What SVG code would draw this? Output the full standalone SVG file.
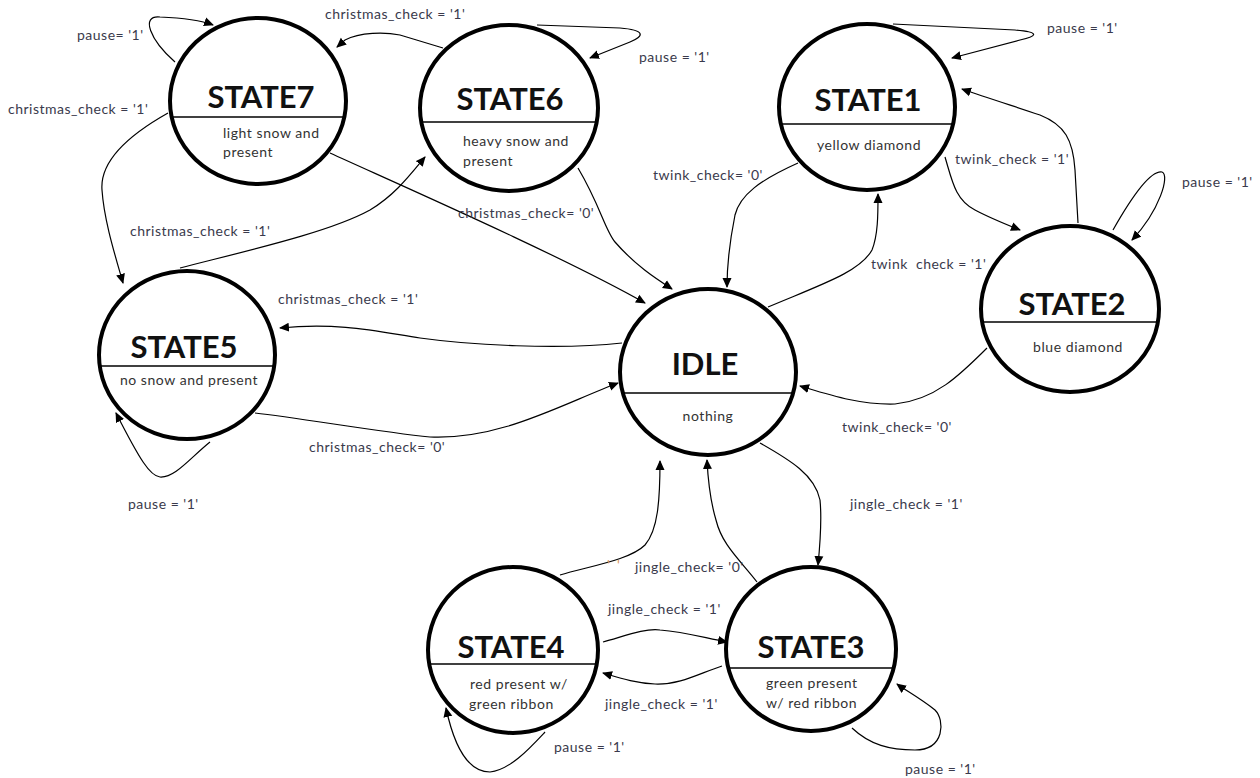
<svg xmlns="http://www.w3.org/2000/svg" width="1260" height="778" viewBox="0 0 1260 778">
<style>
.st{fill:#fff;stroke:#000;stroke-width:4}
.dv{stroke:#000;stroke-width:1.5}
.tt{font-family:Lato,"Liberation Sans",sans-serif;font-weight:bold;font-size:31px;fill:#111;text-anchor:middle}
.sb{font-family:Lato,"Liberation Sans",sans-serif;font-size:14px;fill:#333;letter-spacing:0.55px}
.c{fill:none;stroke:#000;stroke-width:1.2;marker-end:url(#a)}
.lb{font-family:Lato,"Liberation Sans",sans-serif;font-size:14px;fill:#3a3a4c;letter-spacing:0.5px;white-space:pre}
.ms{font-family:Lato,"Liberation Sans",sans-serif;font-size:14px;fill:#d9955a;white-space:pre}
</style>
<defs>
<marker id="a" viewBox="0 0 10 10" refX="9" refY="5" markerWidth="10" markerHeight="10" markerUnits="userSpaceOnUse" orient="auto">
<path d="M0,0.5 L10,5 L0,9.5 z" fill="#000"/>
</marker>
</defs>
<rect width="1260" height="778" fill="#fff"/>

<g id="connectors">
<path class="c" d="M175,62 C150,40 140,15 160,17 C185,18 200,20 213,25"/>
<path class="c" d="M443,48 L400,35 C385,32 360,32 345,40 L337,47"/>
<path class="c" d="M537,25 L620,28 C645,30 645,36 630,42 L590,58"/>
<path class="c" d="M168,113 C120,140 100,165 102,190 C104,220 115,255 123,283"/>
<path class="c" d="M180,268 C250,250 330,232 370,210 C395,195 410,175 425,157"/>
<path class="c" d="M330,153 C400,185 560,255 645,303"/>
<path class="c" d="M578,168 C600,205 605,230 615,242 C635,265 655,278 672,289"/>
<path class="c" d="M798,163 C760,180 740,195 735,215 C730,240 727,265 727,287"/>
<path class="c" d="M768,307 C820,285 860,272 872,250 C878,235 878,215 878,194"/>
<path class="c" d="M945,157 C952,180 955,200 975,210 C990,218 1005,224 1020,230"/>
<path class="c" d="M1078,223 L1075,170 C1073,140 1065,125 1040,115 C1010,105 985,97 962,89"/>
<path class="c" d="M893,24 L1015,30 C1040,32 1038,36 1020,40 L952,58"/>
<path class="c" d="M1113,230 C1130,200 1150,170 1162,172 C1170,175 1160,210 1132,240"/>
<path class="c" d="M987,348 C960,375 935,400 895,404 C860,405 830,395 800,386"/>
<path class="c" d="M622,343 C560,350 470,345 420,338 C380,332 340,322 280,328"/>
<path class="c" d="M255,413 C300,418 380,432 430,437 C500,440 560,405 618,383"/>
<path class="c" d="M210,442 C190,458 175,478 160,477 C150,476 140,460 116,413"/>
<path class="c" d="M760,443 C790,460 815,475 820,500 C822,520 820,545 818,565"/>
<path class="c" d="M757,582 C740,560 722,545 716,520 C710,500 708,480 707,460"/>
<path class="c" d="M560,575 C590,566 630,560 645,545 C658,530 660,500 660,461"/>
<path class="c" d="M603,642 C625,636 645,628 660,630 C685,632 705,638 727,642"/>
<path class="c" d="M722,666 C700,673 680,685 655,684 C635,683 620,678 603,673"/>
<path class="c" d="M852,728 C870,745 890,750 915,750 C945,750 945,720 935,710 C920,698 905,690 897,684"/>
<path class="c" d="M545,732 C530,748 510,770 490,772 C470,772 455,750 446,708"/>
</g>

<g id="labels">
<text class="lb" x="77" y="40">pause= '1'</text>
<text class="lb" x="325" y="19">christmas_check = '1'</text>
<text class="lb" x="8" y="114">christmas_check = '1'</text>
<text class="lb" x="130" y="236">christmas_check = '1'</text>
<text class="lb" x="639" y="62">pause = '1'</text>
<text class="lb" x="458" y="218">christmas_check= '0'</text>
<text class="lb" x="653" y="180">twink_check= '0'</text>
<text class="lb" x="1047" y="33">pause = '1'</text>
<text class="lb" x="955" y="164">twink_check = '1'</text>
<text class="lb" x="1182" y="187">pause = '1'</text>
<text class="lb" x="871" y="269">twink  check = '1'</text>
<text class="lb" x="842" y="432">twink_check= '0'</text>
<text class="lb" x="850" y="509">jingle_check = '1'</text>
<text class="lb" x="278" y="304">christmas_check = '1'</text>
<text class="lb" x="309" y="452">christmas_check= '0'</text>
<text class="lb" x="128" y="509">pause = '1'</text>
<text class="ms" x="607" y="570">'  '</text>
<text class="lb" x="635" y="572">jingle_check= '0'</text>
<text class="lb" x="608" y="614">jingle_check = '1'</text>
<text class="lb" x="605" y="709">jingle_check = '1'</text>
<text class="lb" x="554" y="752">pause = '1'</text>
<text class="lb" x="905" y="774">pause = '1'</text>
</g>

<g id="STATE7">
<ellipse class="st" cx="258" cy="101" rx="88" ry="83"/>
<line class="dv" x1="171" y1="117" x2="345" y2="117"/>
<text class="tt" x="261" y="108">STATE7</text>
<text class="sb" x="223" y="138">light snow and</text>
<text class="sb" x="223" y="157">present</text>
</g>
<g id="STATE6">
<ellipse class="st" cx="509" cy="108" rx="89" ry="83"/>
<line class="dv" x1="421" y1="122" x2="597" y2="122"/>
<text class="tt" x="510" y="110">STATE6</text>
<text class="sb" x="463" y="146">heavy snow and</text>
<text class="sb" x="463" y="166">present</text>
</g>
<g id="STATE1">
<ellipse class="st" cx="867" cy="107" rx="88" ry="83"/>
<line class="dv" x1="780" y1="124" x2="954" y2="124"/>
<text class="tt" x="868" y="111">STATE1</text>
<text class="sb" x="869" y="150" text-anchor="middle">yellow diamond</text>
</g>
<g id="STATE2">
<ellipse class="st" cx="1070" cy="309" rx="89" ry="83"/>
<line class="dv" x1="982" y1="322" x2="1158" y2="322"/>
<text class="tt" x="1072" y="315">STATE2</text>
<text class="sb" x="1078" y="352" text-anchor="middle">blue diamond</text>
</g>
<g id="IDLE">
<ellipse class="st" cx="708" cy="372" rx="88" ry="83"/>
<line class="dv" x1="622" y1="393" x2="794" y2="393"/>
<text class="tt" x="705" y="375">IDLE</text>
<text class="sb" x="708" y="421" text-anchor="middle">nothing</text>
</g>
<g id="STATE5">
<ellipse class="st" cx="187" cy="355" rx="88" ry="84"/>
<line class="dv" x1="100" y1="366" x2="274" y2="366"/>
<text class="tt" x="184" y="358">STATE5</text>
<text class="sb" x="189" y="385" text-anchor="middle">no snow and present</text>
</g>
<g id="STATE4">
<ellipse class="st" cx="513" cy="650" rx="85" ry="83"/>
<line class="dv" x1="429" y1="664" x2="597" y2="664"/>
<text class="tt" x="511" y="658">STATE4</text>
<text class="sb" x="470" y="689">red present w/</text>
<text class="sb" x="469" y="709">green ribbon</text>
</g>
<g id="STATE3">
<ellipse class="st" cx="811" cy="649" rx="85" ry="82"/>
<line class="dv" x1="728" y1="668" x2="894" y2="668"/>
<text class="tt" x="811" y="658">STATE3</text>
<text class="sb" x="766" y="688">green present</text>
<text class="sb" x="766" y="708">w/ red ribbon</text>
</g>
</svg>
